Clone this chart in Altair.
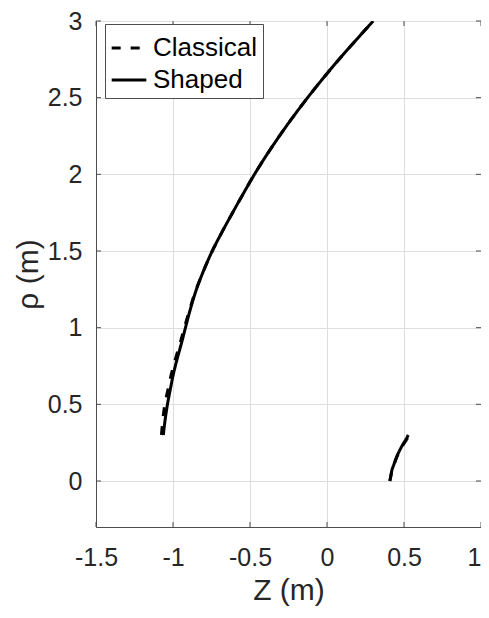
import altair as alt
import pandas as pd

# Shaped (solid) – main branch
rho_main = [0.30, 0.40, 0.50, 0.60, 0.70, 0.80, 0.906, 1.00, 1.125, 1.249, 1.375, 1.50,
            1.625, 1.75, 1.875, 2.00, 2.14, 2.28, 2.39, 2.50, 2.645, 2.752, 2.875, 3.00]
z_shaped_main = [-1.063, -1.051, -1.036, -1.017, -0.997, -0.972, -0.943, -0.919, -0.886, -0.848,
                 -0.800, -0.745, -0.681, -0.613, -0.543, -0.471, -0.383, -0.288, -0.209, -0.126,
                 -0.010, 0.080, 0.188, 0.300]
z_classical_main = [-1.075, -1.066, -1.053, -1.032, -1.010, -0.983, -0.952, -0.926, -0.890, -0.850,
                    -0.800, -0.745, -0.681, -0.613, -0.543, -0.471, -0.383, -0.288, -0.209, -0.126,
                    -0.010, 0.080, 0.188, 0.300]

# small branch
rho_small = [0.00, 0.035, 0.069, 0.11, 0.155, 0.20, 0.241, 0.272, 0.30]
z_shaped_small = [0.408, 0.415, 0.421, 0.435, 0.451, 0.472, 0.494, 0.513, 0.528]
z_classical_small = [0.408, 0.415, 0.422, 0.437, 0.453, 0.475, 0.498, 0.518, 0.536]

x_ticks = [-1.5, -1, -0.5, 0, 0.5, 1]
y_ticks = [0, 0.5, 1, 1.5, 2, 2.5, 3]

rows = []
for series, zm, zs in [("Classical", z_classical_main, z_classical_small),
                       ("Shaped", z_shaped_main, z_shaped_small)]:
    for i, (z, r) in enumerate(zip(zm, rho_main)):
        rows.append(dict(series=series, branch="main", order=i, z=z, rho=r))
    for i, (z, r) in enumerate(zip(zs, rho_small)):
        rows.append(dict(series=series, branch="small", order=i, z=z, rho=r))
df = pd.DataFrame(rows)

W, H = 385, 506
FONT = "Liberation Sans"
AX = "#4d4d4d"
TXT = "#262626"
GRID = "#dedede"

xscale = alt.Scale(domain=[-1.5, 1], nice=False, zero=False)
yscale = alt.Scale(domain=[-0.3, 3], nice=False, zero=False)
dash_scale = alt.Scale(domain=["Classical", "Shaped"], range=[[9, 10], [1, 0]])

common = dict(grid=True, gridColor=GRID, gridOpacity=1, gridWidth=1, ticks=False,
              domainColor=AX, labelFontSize=25, titleFontSize=30, labelColor=TXT,
              titleColor=TXT, labelFont=FONT, titleFont=FONT,
              titleFontWeight="normal", labelFlush=False,
              labelExpr="datum.value + ''")
xaxis = alt.Axis(values=x_ticks, title="Z (m)", labelPadding=18, titlePadding=5,
                 labelAlign={"condition": {"test": "datum.value == 1", "value": "right"},
                             "value": "center"},
                 **common)
yaxis = alt.Axis(values=y_ticks, title="ρ (m)", labelPadding=14, titlePadding=4,
                 **common)

def line_layer(series):
    return alt.Chart(df[df.series == series]).mark_line(
        color="black", strokeWidth=3, clip=True, interpolate="catmull-rom"
    ).encode(
        x=alt.X("z:Q", scale=xscale, axis=xaxis),
        y=alt.Y("rho:Q", scale=yscale, axis=yaxis),
        strokeDash=alt.StrokeDash("series:N", scale=dash_scale,
                                  legend=alt.Legend(title=None)),
        detail="branch:N",
        order="order:Q",
    )

tx = pd.DataFrame({"v": x_ticks})
ty = pd.DataFrame({"v": y_ticks})
tick_style = dict(color=AX, strokeWidth=1)
tb = alt.Chart(tx).mark_rule(**tick_style).encode(
    x=alt.X("v:Q", scale=xscale, axis=xaxis), y=alt.value(H), y2=alt.value(H - 5))
tt = alt.Chart(tx).mark_rule(**tick_style).encode(
    x=alt.X("v:Q", scale=xscale, axis=xaxis), y=alt.value(0), y2=alt.value(5))
tl = alt.Chart(ty).mark_rule(**tick_style).encode(
    y=alt.Y("v:Q", scale=yscale, axis=yaxis), x=alt.value(0), x2=alt.value(5))
tr = alt.Chart(ty).mark_rule(**tick_style).encode(
    y=alt.Y("v:Q", scale=yscale, axis=yaxis), x=alt.value(W), x2=alt.value(W - 5))

chart = alt.layer(
    line_layer("Classical"), line_layer("Shaped"), tb, tt, tl, tr
).properties(
    width=W, height=H,
    autosize=alt.AutoSizeParams(type="none"),
    padding={"left": 88, "top": 13, "right": 0, "bottom": 81},
).configure_view(
    stroke=AX, strokeWidth=1
).configure_axis(
    grid=True, gridColor=GRID
).configure_legend(
    orient="none", legendX=9, legendY=3, fillColor="white", strokeColor=AX,
    padding=5, labelFontSize=26, labelFont=FONT, labelColor="black",
    symbolType="stroke", symbolStrokeWidth=3, symbolSize=1200,
    symbolStrokeColor="black", rowPadding=0, labelOffset=5, cornerRadius=0,
)

chart.save("out.html", embed_options={"renderer": "svg", "actions": False})
